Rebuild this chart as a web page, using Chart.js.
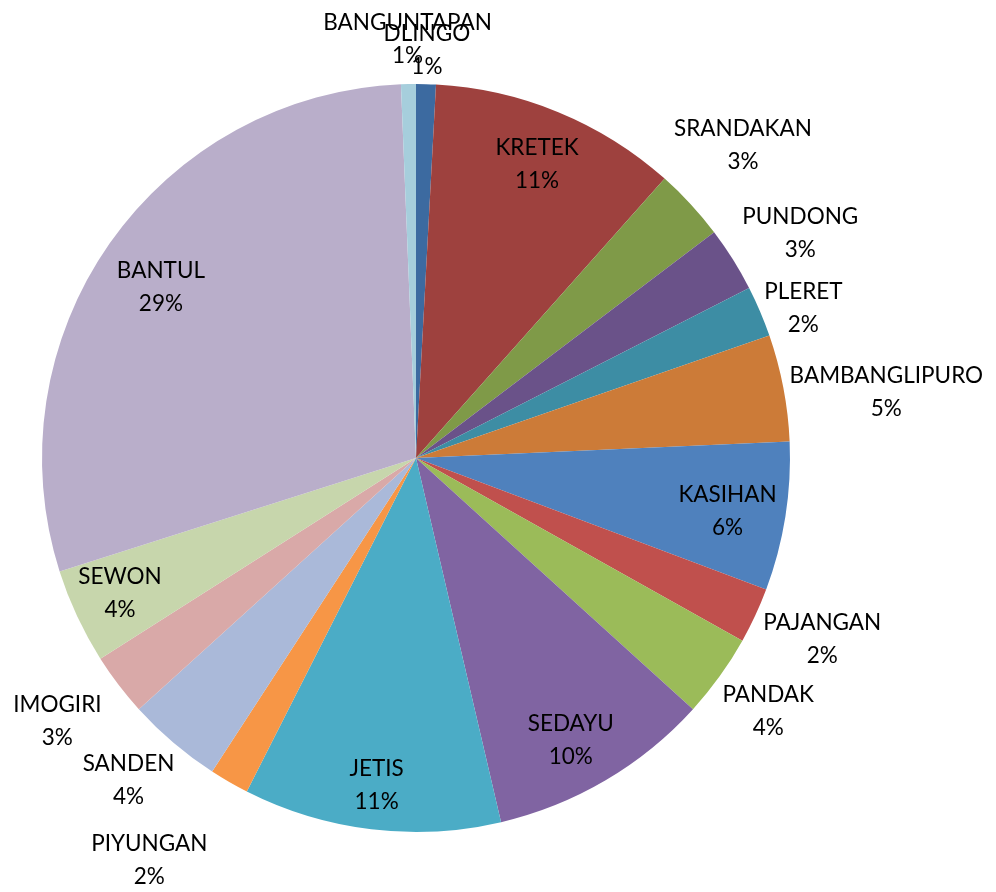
<!DOCTYPE html>
<html>
<head>
<meta charset="utf-8">
<script src="https://cdn.jsdelivr.net/npm/chart.js@4"></script>
<style>
  body { margin: 0; background: #fff; }
  #pie { display: block; }
</style>
</head>
<body>
<canvas id="pie" width="996" height="892"></canvas>
<script>
var kecamatan = ['DLINGO', 'KRETEK', 'SRANDAKAN', 'PUNDONG', 'PLERET', 'BAMBANGLIPURO', 'KASIHAN',
    'PAJANGAN', 'PANDAK', 'SEDAYU', 'JETIS', 'PIYUNGAN', 'SANDEN', 'IMOGIRI', 'SEWON', 'BANTUL', 'BANGUNTAPAN'];
var persen = [0.85, 10.7, 3.1, 2.8, 2.2, 4.6, 6.4, 2.4, 3.6, 9.6, 11.1, 1.7, 4.1, 2.7, 4.1, 29.2, 0.64];
var warna = ['#3C6AA0', '#9E413E', '#7F9A48', '#6A5289', '#3D8DA4', '#CC7B38', '#4F81BD',
    '#C0504D', '#9BBB59', '#8064A2', '#4BACC6', '#F79646', '#AAB9D9', '#D9A9A8', '#C7D6AC', '#B9AECA', '#A6CEDC'];
// posisi label: jarak dari pusat (kali radius) dan geser sudut (derajat)
var jarakLabel = [1.09, 0.85, 1.21, 1.19, 1.11, 1.27, 0.845, 1.19, 1.16, 0.86, 0.88, 1.29, 1.155, 1.19, 0.87, 0.82, 1.12];
var geserSudut = [0, 0, -1, 1.8, 2, 2.8, 0.6, -0.8, 0, 1.7, 0, 3.6, 1.3, 1.0, 0.5, -1.3, 0];

var labelPie = {
    id: 'labelPie',
    afterDatasetsDraw: function(chart) {
        var ctx = chart.ctx;
        var meta = chart.getDatasetMeta(0);
        var data = chart.data.datasets[0].data;
        var total = data.reduce(function(a, b) { return a + b; }, 0);
        ctx.save();
        ctx.font = '22.5px Lato';
        ctx.fillStyle = '#000';
        ctx.textAlign = 'center';
        ctx.textBaseline = 'middle';
        meta.data.forEach(function(arc, i) {
            var p = arc.getProps(['x', 'y', 'startAngle', 'endAngle', 'outerRadius'], true);
            var mid = (p.startAngle + p.endAngle) / 2 + geserSudut[i] * Math.PI / 180;
            var r = p.outerRadius * jarakLabel[i];
            var lx = p.x + Math.cos(mid) * r;
            var ly = p.y + Math.sin(mid) * r;
            ctx.fillText(chart.data.labels[i], lx, ly - 16.5);
            ctx.fillText(Math.round(data[i] / total * 100) + '%', lx, ly + 16.5);
        });
        ctx.restore();
    }
};

var pie = document.getElementById('pie').getContext('2d');
var ChartPie = new Chart(pie, {
    type: 'pie',
    data: {
        labels: kecamatan,
        datasets: [{
            data: persen,
            backgroundColor: warna,
            borderWidth: 0
        }]
    },
    options: {
        responsive: false,
        animation: false,
        layout: {
            padding: { left: 42, right: 206, top: 84, bottom: 60 }
        },
        plugins: {
            legend: { display: false },
            tooltip: { enabled: false }
        }
    },
    plugins: [labelPie]
});
</script>
</body>
</html>
